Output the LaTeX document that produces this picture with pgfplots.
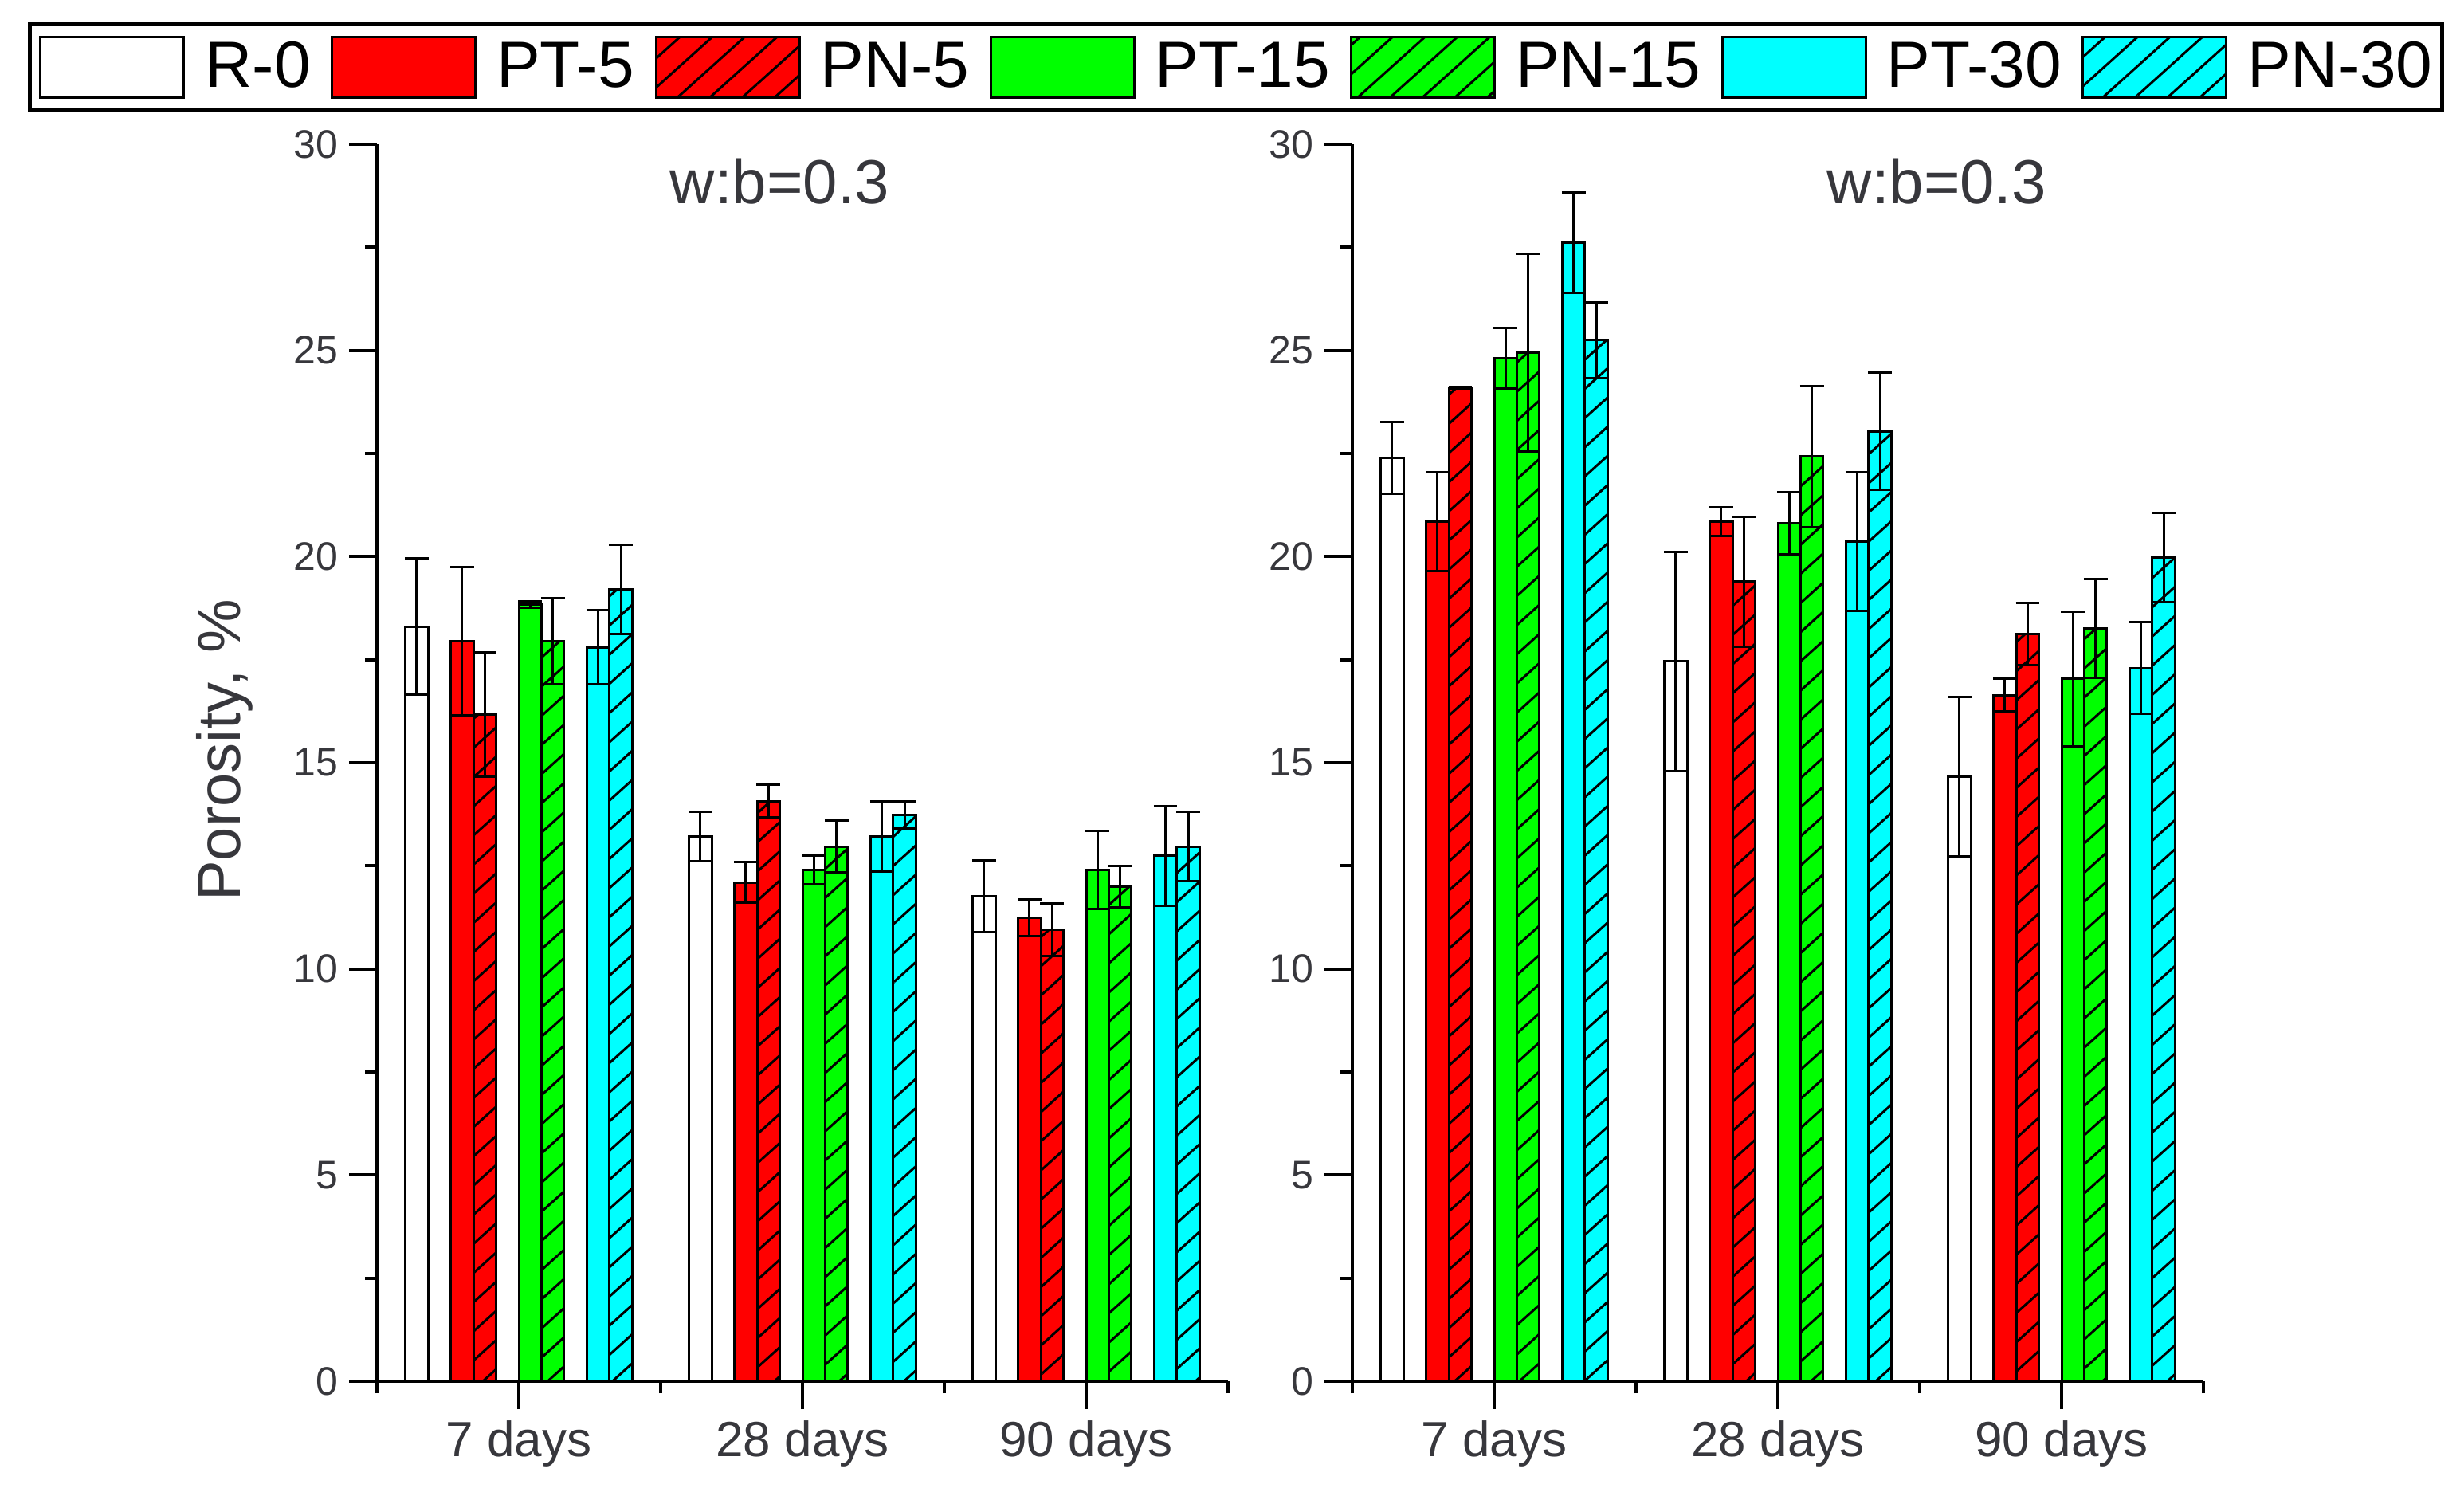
\documentclass[border=0pt]{standalone}
\usepackage{fontspec}
\setmainfont{Liberation Sans}
\usepackage{pgfplots}
\pgfplotsset{compat=1.18}
\usetikzlibrary{patterns.meta}
\definecolor{cR}{RGB}{255,0,0}
\definecolor{cG}{RGB}{0,255,0}
\definecolor{cC}{RGB}{0,255,255}
\definecolor{txtgray}{RGB}{55,55,60}
\pgfplotsset{
  leg/.style={legend image code/.code={\draw[##1] (0pt,-9.5pt) rectangle (45pt,9.5pt);}},
  hatch/.style={postaction={pattern={Lines[angle=42,distance=6.8pt,line width=0.75pt]},pattern color=black}},
  eb/.style={error bars/.cd, y dir=both, y explicit,
    error bar style={line width=0.75pt,black},
    error mark options={rotate=90,mark size=3.7pt,line width=0.75pt,black}},
  s0/.style={fill=white, draw=black, line width=0.75pt, bar shift=-0.36, leg, eb},
  s1/.style={fill=cR, draw=black, line width=0.75pt, bar shift=-0.2, leg, eb},
  s2/.style={fill=cR, draw=black, line width=0.75pt, hatch, bar shift=-0.12, leg, eb},
  s3/.style={fill=cG, draw=black, line width=0.75pt, bar shift=0.04, leg, eb},
  s4/.style={fill=cG, draw=black, line width=0.75pt, hatch, bar shift=0.12, leg, eb},
  s5/.style={fill=cC, draw=black, line width=0.75pt, bar shift=0.28, leg, eb},
  s6/.style={fill=cC, draw=black, line width=0.75pt, hatch, bar shift=0.36, leg, eb},
  panel/.style={
    ybar, scale only axis, width=267pt, height=388pt, anchor=south west,
    xmin=0.5, xmax=3.5, ymin=0, ymax=30,
    axis x line*=bottom, axis y line*=left,
    axis line style={line width=1pt,-},
    xtick={1,2,3}, xticklabels={7 days,28 days,90 days},
    minor xtick={0.5,1.5,2.5,3.5},
    ytick={0,5,...,30}, minor ytick={2.5,7.5,...,27.5},
    tick align=outside, major tick length=8.75pt, minor tick length=3.75pt,
    tick style={line width=1pt,black},
    every tick/.style={line width=1pt,black},
    bar width=0.08,
    /pgf/number format/assume math mode=true,
    yticklabel style={font=\fontsize{12.5}{14}\selectfont, color=txtgray},
    xticklabel style={font=\fontsize{15.5}{18}\selectfont, color=txtgray},
    clip=false,
  }
}
\begin{document}
\begin{tikzpicture}
\useasboundingbox (0,0) rectangle (773pt,469pt);
\begin{axis}[panel, at={(118.25pt,35.75pt)},
  ylabel={Porosity, \%},
  ylabel style={at={(axis description cs:-0.179,0.51)}, anchor=center, font=\fontsize{19}{22}\selectfont, color=txtgray},
  legend columns=7,
  legend cell align=left,
  legend style={at={(axis description cs:-0.4101,1.0986)}, anchor=north west,
    draw=black, line width=1.2pt, inner xsep=3pt, inner ysep=3.6pt,
    column sep=6.3pt, font=\fontsize{20.5}{24}\selectfont,
    nodes={inner sep=0pt}},
]
\addplot[s0] coordinates {(1,18.30) +- (0,1.65) (2,13.22) +- (0,0.60) (3,11.76) +- (0,0.87)};
\addplot[s1] coordinates {(1,17.95) +- (0,1.80) (2,12.10) +- (0,0.50) (3,11.24) +- (0,0.45)};
\addplot[s2] coordinates {(1,16.17) +- (0,1.50) (2,14.07) +- (0,0.40) (3,10.95) +- (0,0.63)};
\addplot[s3] coordinates {(1,18.84) +- (0,0.08) (2,12.40) +- (0,0.35) (3,12.40) +- (0,0.95)};
\addplot[s4] coordinates {(1,17.95) +- (0,1.05) (2,12.97) +- (0,0.63) (3,12.00) +- (0,0.50)};
\addplot[s5] coordinates {(1,17.80) +- (0,0.90) (2,13.22) +- (0,0.85) (3,12.74) +- (0,1.20)};
\addplot[s6] coordinates {(1,19.20) +- (0,1.08) (2,13.74) +- (0,0.33) (3,12.97) +- (0,0.85)};
\legend{R-0,PT-5,PN-5,PT-15,PN-15,PT-30,PN-30}
\node[font=\fontsize{19.5}{22}\selectfont, color=txtgray] at (axis cs:1.92,29.1) {w:b=0.3};
\end{axis}
\begin{axis}[panel, at={(424.25pt,35.75pt)}]
\addplot[s0] coordinates {(1,22.39) +- (0,0.87) (2,17.46) +- (0,2.66) (3,14.66) +- (0,1.93)};
\addplot[s1] coordinates {(1,20.85) +- (0,1.20) (2,20.85) +- (0,0.35) (3,16.64) +- (0,0.39)};
\addplot[s2] coordinates {(1,24.10) +- (0,0.02) (2,19.39) +- (0,1.58) (3,18.12) +- (0,0.75)};
\addplot[s3] coordinates {(1,24.81) +- (0,0.73) (2,20.81) +- (0,0.75) (3,17.03) +- (0,1.64)};
\addplot[s4] coordinates {(1,24.95) +- (0,2.40) (2,22.43) +- (0,1.71) (3,18.26) +- (0,1.20)};
\addplot[s5] coordinates {(1,27.61) +- (0,1.22) (2,20.37) +- (0,1.68) (3,17.30) +- (0,1.12)};
\addplot[s6] coordinates {(1,25.25) +- (0,0.92) (2,23.04) +- (0,1.42) (3,19.98) +- (0,1.08)};
\node[font=\fontsize{19.5}{22}\selectfont, color=txtgray] at (axis cs:2.56,29.1) {w:b=0.3};
\end{axis}
\end{tikzpicture}
\end{document}
